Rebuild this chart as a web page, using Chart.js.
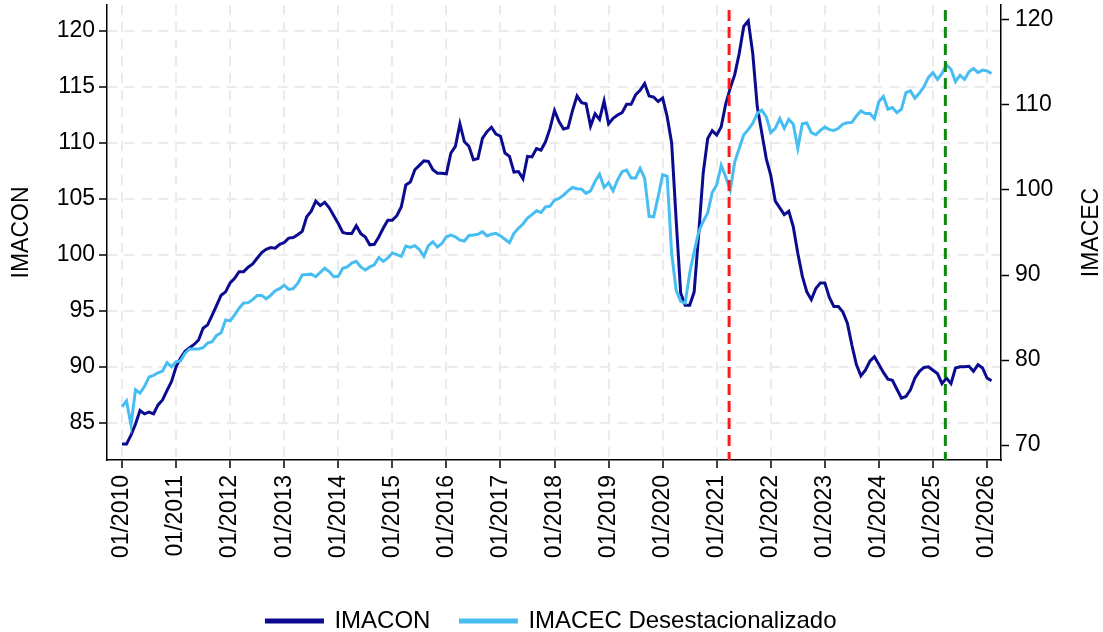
<!DOCTYPE html>
<html>
<head>
<meta charset="utf-8">
<script src="https://cdn.jsdelivr.net/npm/chart.js@4.4.1/dist/chart.umd.min.js"></script>
<style>
  html, body { margin: 0; padding: 0; background: #fff; }
  #wrap { width: 1103px; height: 632px; }
</style>
</head>
<body>
<div id="wrap"><canvas id="chart" width="1103" height="632"></canvas></div>
<script>
// monthly series, 01/2010 .. 02/2026 (index 0 = 01/2010)
const imacon = [
  83.1, 83.1, 83.9, 84.9, 86.1, 85.8, 85.95, 85.8, 86.6, 87.05, 87.9, 88.7,
  90.0, 90.8, 91.4, 91.7, 92.0, 92.4, 93.45, 93.75, 94.6, 95.5, 96.4, 96.7,
  97.5, 97.9, 98.5, 98.5, 98.9, 99.2, 99.7, 100.2, 100.5, 100.65, 100.6, 100.95,
  101.1, 101.5, 101.55, 101.8, 102.1, 103.4, 103.9, 104.8, 104.4, 104.7, 104.2, 103.5,
  102.8, 102.0, 101.9, 101.9, 102.6, 101.9, 101.6, 100.9, 100.95, 101.6, 102.4, 103.1,
  103.1, 103.5, 104.3, 106.25, 106.5, 107.6, 108.0, 108.4, 108.35, 107.6, 107.3, 107.3,
  107.25, 109.1, 109.7, 111.7, 110.1, 109.7, 108.5, 108.6, 110.4, 111.0, 111.4, 110.8,
  110.6, 109.1, 108.8, 107.4, 107.45, 106.8, 108.8, 108.75, 109.5, 109.35, 110.1, 111.3,
  112.9, 111.9, 111.25, 111.35, 112.9, 114.2, 113.6, 113.5, 111.5, 112.6, 112.1, 113.75,
  111.7, 112.2, 112.5, 112.7, 113.45, 113.45, 114.3, 114.7, 115.3, 114.2, 114.1, 113.7,
  114.0, 112.35, 110.0, 103.1, 96.6, 95.5, 95.5, 96.7, 101.9, 107.3, 110.4, 111.1,
  110.7, 111.45, 113.5, 114.9, 116.1, 118.0, 120.4, 120.9, 118.0, 113.25, 110.9, 108.6,
  107.1, 104.8, 104.2, 103.6, 103.9, 102.5, 100.15, 98.1, 96.7, 96.0, 97.0, 97.5,
  97.5, 96.2, 95.4, 95.4, 94.9, 93.9, 91.95, 90.2, 89.2, 89.7, 90.5, 90.9,
  90.2, 89.5, 88.9, 88.8, 88.0, 87.2, 87.35, 87.95, 89.0, 89.6, 89.95, 90.0,
  89.7, 89.4, 88.5, 89.0, 88.5, 89.9, 90.0, 90.0, 90.05, 89.6, 90.2, 89.9,
  89.0, 88.75
]

const imacec = [
  74.5, 75.2, 72.35, 76.5, 76.1, 76.9, 78.0, 78.2, 78.5, 78.7, 79.7, 79.2,
  79.8, 79.9, 80.8, 81.3, 81.3, 81.3, 81.45, 82.0, 82.15, 82.9, 83.2, 84.7,
  84.6, 85.3, 86.1, 86.7, 86.75, 87.1, 87.6, 87.6, 87.2, 87.6, 88.15, 88.4,
  88.8, 88.3, 88.4, 89.0, 90.0, 90.05, 90.1, 89.8, 90.3, 90.8, 90.4, 89.8,
  89.85, 90.8, 90.95, 91.4, 91.6, 90.95, 90.6, 90.95, 91.2, 92.05, 91.6, 92.0,
  92.6, 92.4, 92.2, 93.4, 93.25, 93.45, 93.0, 92.2, 93.45, 93.9, 93.3, 93.7,
  94.5, 94.7, 94.5, 94.1, 94.0, 94.65, 94.7, 94.8, 95.1, 94.6, 94.8, 94.9,
  94.6, 94.2, 93.8, 94.9, 95.5, 96.0, 96.7, 97.1, 97.55, 97.35, 98.0, 98.1,
  98.8, 99.0, 99.4, 99.9, 100.3, 100.15, 100.1, 99.6, 99.9, 101.0, 101.85, 100.3,
  100.85, 99.9, 101.2, 102.15, 102.35, 101.4, 101.4, 102.55, 101.4, 96.9, 96.85, 99.2,
  101.8, 101.6, 92.55, 88.2, 86.9, 86.7, 90.2, 92.75, 95.1, 96.3, 97.3, 99.7,
  100.6, 102.9, 101.55, 100.0, 103.3, 104.9, 106.5, 107.1, 107.85, 109.0, 109.4, 108.6,
  106.75, 107.25, 108.4, 107.25, 108.3, 107.75, 104.9, 107.8, 107.9, 106.75, 106.5, 107.0,
  107.4, 107.1, 107.0, 107.25, 107.75, 107.9, 107.95, 108.7, 109.3, 109.0, 109.0, 108.4,
  110.4, 111.0, 109.5, 109.7, 109.1, 109.5, 111.45, 111.65, 110.8, 111.4, 112.15, 113.25,
  113.8, 113.0, 113.7, 114.7, 114.2, 112.75, 113.5, 113.0, 113.9, 114.3, 113.8, 114.1,
  114.0, 113.7
]

const tickLabels = [
  '01/2010', '01/2011', '01/2012', '01/2013', '01/2014', '01/2015', '01/2016', '01/2017', '01/2018',
  '01/2019', '01/2020', '01/2021', '01/2022', '01/2023', '01/2024', '01/2025', '01/2026'
]

// dashed vertical markers (month index) and their colours
const markerMonths = [134.75, 182.75]
const markerColors = ['#ff1a1a', '#118811']

const rightAxisTitle = 'IMACEC'

const FONT = 'Liberation Sans, Arial, sans-serif'
const NARROW = '"Liberation Sans Narrow", "Arial Narrow", Liberation Sans, sans-serif'

const markerLines = {
  id: 'markerLines',
  afterDatasetsDraw (chart) {
    const x = chart.scales.x
    const { top, bottom } = chart.chartArea
    const ctx = chart.ctx
    markerMonths.forEach((m, i) => {
      const px = x.getPixelForValue(m)
      ctx.save()
      ctx.strokeStyle = markerColors[i]
      ctx.lineWidth = 3
      ctx.setLineDash([11, 6])
      ctx.beginPath()
      ctx.moveTo(px, top + 5)
      ctx.lineTo(px, bottom)
      ctx.stroke()
      ctx.restore()
    })
  }
}

// right axis title, rotated the same way as the left one
const rightTitle = {
  id: 'rightTitle',
  afterDraw (chart) {
    const s = chart.scales.y1
    const ctx = chart.ctx
    ctx.save()
    ctx.translate(s.right - 11, (s.top + s.bottom) / 2)
    ctx.rotate(-Math.PI / 2)
    ctx.textAlign = 'center'
    ctx.textBaseline = 'middle'
    ctx.font = '23px ' + FONT
    ctx.fillStyle = '#000'
    ctx.fillText(rightAxisTitle, 0, 0)
    ctx.restore()
  }
}

const toPoints = arr => arr.map((v, i) => ({ x: i, y: v }))

const gridOpts = {
  color: '#ebebeb',
  lineWidth: 2,
  tickColor: '#000',
  tickWidth: 1.5,
  tickLength: 8
}

const ctx = document.getElementById('chart').getContext('2d')
new Chart(ctx, {
  type: 'line',
  data: {
    datasets: [
      {
        label: 'IMACON',
        data: toPoints(imacon),
        yAxisID: 'y',
        borderColor: '#0b0b8f',
        backgroundColor: '#0b0b8f',
        borderWidth: 3,
        pointRadius: 0,
        order: 1
      },
      {
        label: 'IMACEC Desestacionalizado',
        data: toPoints(imacec),
        yAxisID: 'y1',
        borderColor: '#47bdf2',
        backgroundColor: '#47bdf2',
        borderWidth: 3,
        pointRadius: 0,
        order: 0
      }
    ]
  },
  options: {
    responsive: false,
    animation: false,
    devicePixelRatio: 1,
    layout: { padding: { top: 5, left: 0, right: 0, bottom: -11 } },
    plugins: {
      tooltip: { enabled: false },
      legend: {
        position: 'bottom',
        labels: {
          sort: (a, b) => a.datasetIndex - b.datasetIndex,
          boxWidth: 56,
          boxHeight: 2,
          padding: 30,
          color: '#000',
          font: { family: FONT, size: 24 }
        }
      }
    },
    scales: {
      x: {
        type: 'linear',
        min: -3.33,
        max: 195.1,
        afterBuildTicks: scale => {
          scale.ticks = tickLabels.map((t, i) => ({ value: i * 12 }))
        },
        afterFit: scale => { scale.height = 119 },
        ticks: {
          minRotation: 90,
          maxRotation: 90,
          padding: 7,
          color: '#000',
          font: { family: FONT, size: 23 },
          callback: (v, i) => tickLabels[i]
        },
        grid: gridOpts,
        border: { display: true, color: '#000', width: 1.5, dash: [10, 7] }
      },
      y: {
        position: 'left',
        min: 81.68,
        max: 122.32,
        afterFit: scale => {
          scale.width = 107
          scale.paddingTop = 0
          scale.paddingBottom = 0
        },
        ticks: {
          stepSize: 5,
          includeBounds: false,
          padding: 4,
          color: '#000',
          font: { family: NARROW, size: 23 }
        },
        title: {
          display: true,
          text: 'IMACON',
          color: '#000',
          padding: { top: 8, bottom: 0 },
          font: { family: FONT, size: 23 }
        },
        grid: gridOpts,
        border: { display: true, color: '#000', width: 1.5, dash: [10, 7] }
      },
      y1: {
        position: 'right',
        min: 68.24,
        max: 121.76,
        afterFit: scale => {
          scale.width = 102
          scale.paddingTop = 0
          scale.paddingBottom = 0
        },
        ticks: {
          stepSize: 10,
          includeBounds: false,
          padding: 6,
          color: '#000',
          font: { family: NARROW, size: 23 }
        },
        grid: {
          drawOnChartArea: false,
          tickColor: '#000',
          tickWidth: 1.5,
          tickLength: 8
        },
        border: { display: true, color: '#000', width: 1.5 }
      }
    }
  },
  plugins: [markerLines, rightTitle]
})
</script>
</body>
</html>
